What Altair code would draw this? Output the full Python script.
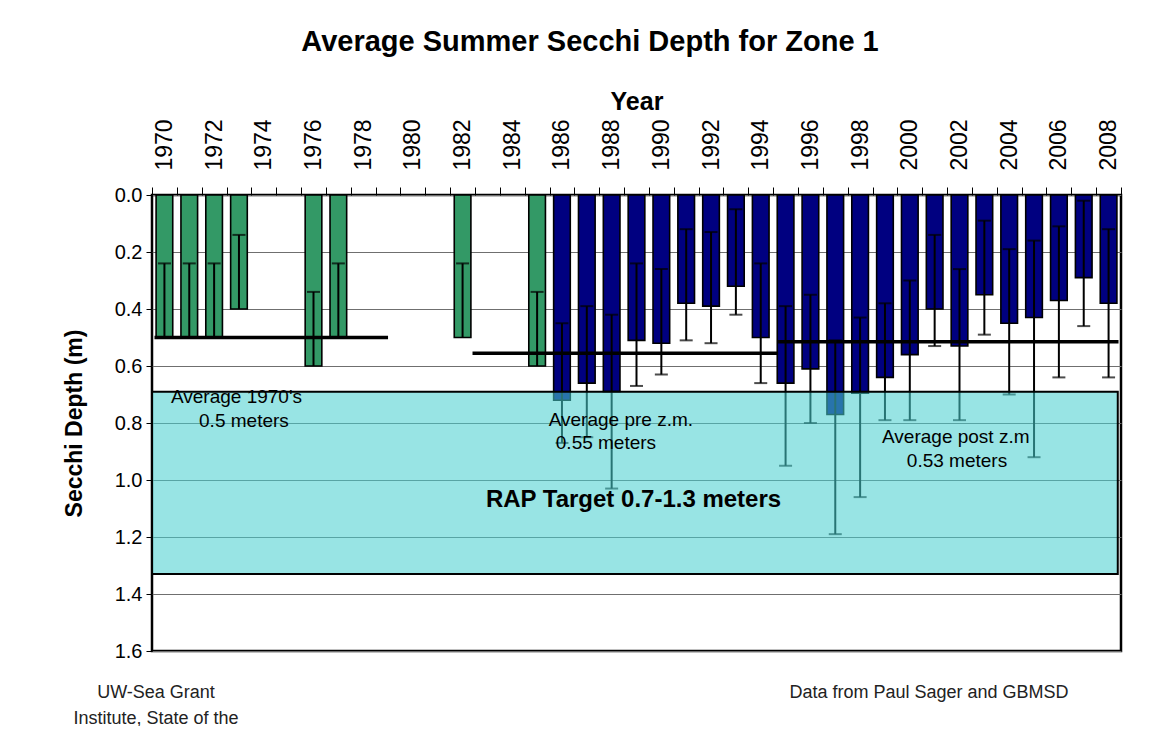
import altair as alt
import pandas as pd

# ---------------- data ----------------
years_green = [1970, 1971, 1972, 1973, 1976, 1977, 1982, 1985]
depth_green = [0.50, 0.50, 0.50, 0.40, 0.60, 0.50, 0.50, 0.60]
errlo_green = [0.24, 0.24, 0.24, 0.14, 0.34, 0.24, 0.24, 0.34]

years_blue = list(range(1986, 2009))
depth_blue = [0.72, 0.66, 0.69, 0.51, 0.52, 0.38, 0.39, 0.32, 0.50, 0.66, 0.61, 0.77,
              0.695, 0.64, 0.56, 0.40, 0.53, 0.35, 0.45, 0.43, 0.37, 0.29, 0.38]
errlo_blue = [0.45, 0.39, 0.42, 0.24, 0.26, 0.12, 0.13, 0.05, 0.24, 0.39, 0.35, 0.51,
              0.43, 0.38, 0.30, 0.14, 0.26, 0.09, 0.19, 0.16, 0.11, 0.02, 0.12]
errhi_blue = [0.87, 0.85, 1.03, 0.67, 0.63, 0.51, 0.52, 0.42, 0.66, 0.95, 0.80, 1.19,
              1.06, 0.79, 0.79, 0.53, 0.79, 0.49, 0.70, 0.92, 0.64, 0.46, 0.64]

avg_start = [1969.6, 1982.4, 1994.7]
avg_end = [1979.0, 1994.7, 2008.4]
avg_value = [0.50, 0.555, 0.515]

target_x = [1969.5, 2008.37]
target_y = [0.69, 1.33]

note_text = ["Average 1970's", "0.5 meters", "Average pre z.m.", "0.55 meters",
             "Average post z.m", "0.53 meters"]
note_x = [1972.9, 1973.2, 1988.37, 1987.77, 2001.85, 2001.9]
note_y = [0.709, 0.793, 0.789, 0.870, 0.849, 0.933]

rap_text = ["RAP Target 0.7-1.3 meters"]
rap_x = [1988.88]
rap_y = [1.07]

x_domain = [1969.5, 2008.5]
y_ticks = [0.0, 0.2, 0.4, 0.6, 0.8, 1.0, 1.2, 1.4, 1.6]

# ---------------- tables ----------------
HALF = 0.335
bars = pd.DataFrame({
    "year": years_green + years_blue,
    "depth": depth_green + depth_blue,
    "group": ["green"] * len(years_green) + ["blue"] * len(years_blue),
})
bars["x_lo"] = bars["year"] - HALF
bars["x_hi"] = bars["year"] + HALF

err = pd.DataFrame({
    "year": years_green + years_blue,
    "lo": errlo_green + errlo_blue,
    "hi": depth_green + errhi_blue,
})
caps = pd.DataFrame({
    "year": years_green + years_blue + years_blue,
    "v": errlo_green + errlo_blue + errhi_blue,
})
avg = pd.DataFrame({"x1": avg_start, "x2": avg_end, "y": avg_value})
target = pd.DataFrame({"x1": [target_x[0]], "x2": [target_x[1]],
                       "y1": [target_y[0]], "y2": [target_y[1]]})
notes = pd.DataFrame({"t": note_text, "x": note_x, "y": note_y})
rap = pd.DataFrame({"t": rap_text, "x": rap_x, "y": rap_y})

FONT = "Liberation Sans"
xs = alt.Scale(domain=x_domain, nice=False, zero=False)
ys = alt.Scale(domain=[0, 1.6], reverse=True, nice=False, zero=False)

tick_vals = [1969.5 + 0.5 * i for i in range(79)]

x_axis = alt.Axis(
    orient="top", title="Year", values=tick_vals,
    labelExpr="datum.value % 2 == 0 ? toString(datum.value) : ''",
    labelAngle=270, labelFontSize=23, labelFont=FONT, labelColor="black",
    labelOverlap=False, labelPadding=17,
    tickOpacity={"condition": {"test": "datum.value % 1 == 0", "value": 0}, "value": 1},
    tickColor="black", tickSize=8, tickWidth=1,
    domain=False, grid=False,
    titleFont=FONT, titleFontSize=25, titleFontWeight="bold", titleColor="black",
    titlePadding=4,
)
y_axis = alt.Axis(
    title="Secchi Depth (m)", values=y_ticks, format=".1f",
    labelFontSize=20, labelFont=FONT, labelColor="black", labelPadding=4,
    tickColor="black", tickSize=6, tickWidth=1,
    domain=False, grid=True, gridColor="#6f6f6f", gridWidth=1.2,
    titleFont=FONT, titleFontSize=23, titleFontWeight="bold", titleColor="black",
    titlePadding=28,
)

bar_layer = alt.Chart(bars).mark_bar(stroke="black", strokeWidth=1.6).encode(
    x=alt.X("x_lo:Q", scale=xs, axis=x_axis),
    x2="x_hi:Q",
    y=alt.Y("depth:Q", scale=ys, axis=y_axis),
    y2=alt.datum(0),
    color=alt.Color("group:N", scale=alt.Scale(domain=["green", "blue"],
                                               range=["#339966", "#000080"]), legend=None),
)

err_layer = alt.Chart(err).mark_rule(color="black", strokeWidth=2).encode(
    x=alt.X("year:Q", scale=xs, axis=x_axis),
    y=alt.Y("lo:Q", scale=ys, axis=y_axis),
    y2="hi:Q",
)

cap_layer = alt.Chart(caps).mark_tick(color="black", orient="horizontal",
                                      size=13, thickness=2).encode(
    x=alt.X("year:Q", scale=xs, axis=x_axis),
    y=alt.Y("v:Q", scale=ys, axis=y_axis),
)

avg_layer = alt.Chart(avg).mark_rule(color="black", strokeWidth=3.5).encode(
    x=alt.X("x1:Q", scale=xs, axis=x_axis),
    x2="x2:Q",
    y=alt.Y("y:Q", scale=ys, axis=y_axis),
)

target_layer = alt.Chart(target).mark_rect(
    fill="#47cfcf", fillOpacity=0.56, stroke="black", strokeWidth=2
).encode(
    x=alt.X("x1:Q", scale=xs, axis=x_axis), x2="x2:Q",
    y=alt.Y("y1:Q", scale=ys, axis=y_axis), y2="y2:Q",
)

note_layer = alt.Chart(notes).mark_text(
    font=FONT, fontSize=19, color="black", align="center", baseline="middle"
).encode(
    x=alt.X("x:Q", scale=xs, axis=x_axis),
    y=alt.Y("y:Q", scale=ys, axis=y_axis),
    text="t:N",
)

rap_layer = alt.Chart(rap).mark_text(
    font=FONT, fontSize=24, fontWeight="bold", color="black",
    align="center", baseline="middle"
).encode(
    x=alt.X("x:Q", scale=xs, axis=x_axis),
    y=alt.Y("y:Q", scale=ys, axis=y_axis),
    text="t:N",
)

title_layer = alt.Chart(pd.DataFrame({"t": ["Average Summer Secchi Depth for Zone 1"]})).mark_text(
    font=FONT, fontSize=29, fontWeight="bold", color="black",
    align="center", baseline="middle"
).encode(x=alt.value(438), y=alt.value(-153), text="t:N")

credit = pd.DataFrame({
    "t": ["UW-Sea Grant", "Institute, State of the", "Data from Paul Sager and GBMSD"],
    "px": [4, 4, 777], "py": [498, 524, 498],
})
credit_layer = alt.Chart(credit).mark_text(
    font=FONT, fontSize=18, color="#222222", align="center", baseline="middle"
).encode(
    x=alt.X("px:Q", scale=None, axis=None),
    y=alt.Y("py:Q", scale=None, axis=None),
    text="t:N",
)

chart = alt.layer(
    bar_layer, err_layer, cap_layer, avg_layer, target_layer,
    note_layer, rap_layer, title_layer, credit_layer,
).properties(
    width=969, height=456,
    padding={"left": 144, "top": 187, "right": 20, "bottom": 75},
    autosize=alt.AutoSizeParams(type="none"),
    background="white",
).configure_view(
    stroke="black", strokeWidth=2.5,
)

chart.save("out.html", embed_options={"renderer": "svg", "actions": False})
